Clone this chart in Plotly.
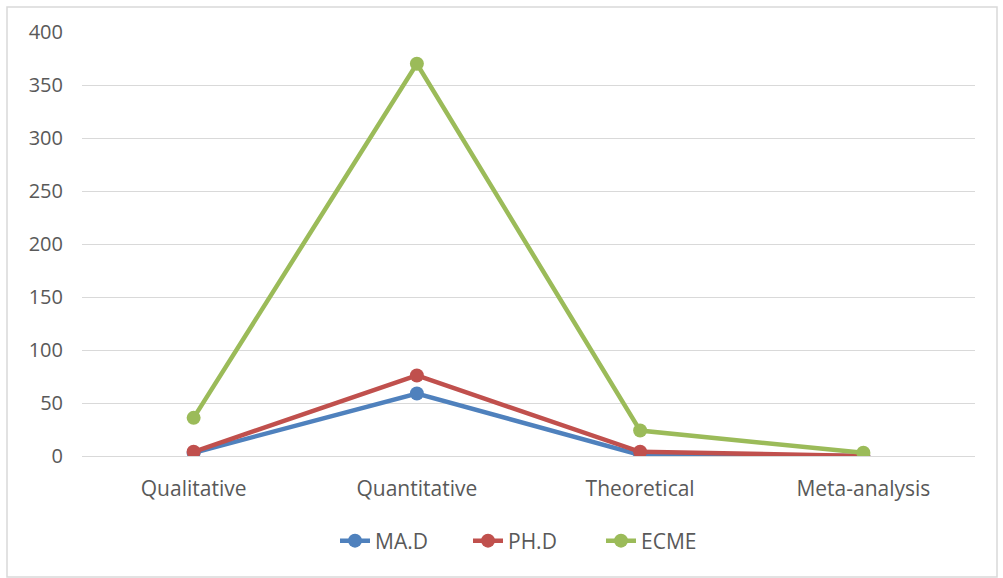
import plotly.graph_objects as go

categories = ["Qualitative", "Quantitative", "Theoretical", "Meta-analysis"]
ma_d = [3, 59, 1, 0]
ph_d = [4, 76, 4, 0]
ecme = [36, 370, 24, 3]
y_ticks = [0, 50, 100, 150, 200, 250, 300, 350, 400]

series = [("MA.D", ma_d, "#4F81BD"), ("PH.D", ph_d, "#C0504D"), ("ECME", ecme, "#9BBB59")]

fig = go.Figure()
for name, vals, color in series:
    fig.add_trace(go.Scatter(
        x=categories, y=vals, name=name, mode="lines+markers",
        line=dict(color=color, width=4.5),
        marker=dict(color=color, size=14),
    ))

L, R, T, B = 82, 28, 32, 122
W, H = 1003, 578
pw, ph = W - L - R, H - T - B

fig.update_layout(
    width=W, height=H,
    margin=dict(l=L, r=R, t=T, b=B),
    paper_bgcolor="white", plot_bgcolor="white",
    font=dict(family="Open Sans", size=20, color="#595959"),
    showlegend=True,
    legend=dict(orientation="h", x=(335 - L) / pw, xanchor="left", y=-(541 - 456) / ph, yanchor="middle",
                font=dict(size=21, color="#595959"), entrywidth=88, entrywidthmode="pixels"),
    xaxis=dict(type="category", range=[-0.5, 3.5], showgrid=False, showline=True,
               linecolor="#D9D9D9", linewidth=1, ticks="", tickfont=dict(size=21),
               ticklabelstandoff=14),
    yaxis=dict(range=[0, 400], tickvals=y_ticks, showgrid=True, gridcolor="#D9D9D9",
               gridwidth=1, zeroline=False, ticks="", ticklen=0, tickfont=dict(size=20),
               ticklabelstandoff=18),
    shapes=[dict(type="rect", xref="paper", yref="paper",
                 x0=(7 - L) / pw, x1=(997 - L) / pw,
                 y0=(H - B - 577) / ph, y1=(H - B - 7) / ph,
                 line=dict(color="#D9D9D9", width=1.5), layer="below")],
)

fig.write_html("out.html", config={"displayModeBar": False},
               post_script="document.body.style.margin='0';")
